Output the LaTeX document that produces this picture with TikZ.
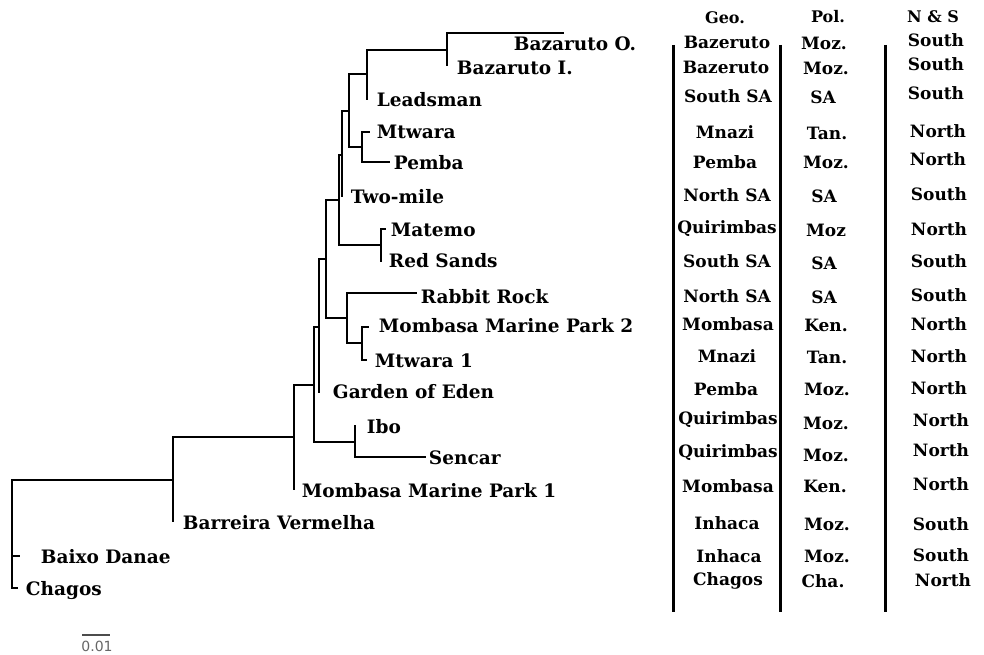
\documentclass[tikz,border=0pt]{standalone}
\usepackage{fontspec}
\setmainfont{DejaVu Serif}
\newfontfamily\barfont{DejaVu Sans}
\usepackage{tikz}

\begin{document}
\begin{tikzpicture}[x=1pt,y=-1pt,line width=1.9pt,
                    branch/.style={to path={|- (\tikztotarget)}},
                    leaf/.style={anchor=mid west,inner sep=0pt,yshift=-5pt,font=\fontsize{18.5}{20}\selectfont\bfseries},
                    cell/.style={inner sep=0pt,font=\fontsize{17}{19}\selectfont\bfseries},
                    head/.style={inner sep=0pt,font=\fontsize{16}{18}\selectfont\bfseries},
                    rule/.style={line width=3pt}]

  \useasboundingbox (0,0) rectangle (984,655);

  % branching points
  \coordinate (root) at (12,534);
  \coordinate (nA)   at (173,480);
  \coordinate (nB)   at (294,437);
  \coordinate (nC)   at (314,385);
  \coordinate (nE)   at (319,327);
  \coordinate (nF)   at (326,259);
  \coordinate (nX)   at (339,200);
  \coordinate (nY)   at (342,155);
  \coordinate (nZ)   at (349,111);
  \coordinate (nW)   at (367,74);
  \coordinate (nBZ)  at (447,50);
  \coordinate (nMP)  at (362,147);
  \coordinate (nMR)  at (381,245);
  \coordinate (nH)   at (347,318);
  \coordinate (nK)   at (362,343);
  \coordinate (nIS)  at (355,442);

  % tips
  \coordinate (tBazO)     at (564,33);
  \coordinate (tBazI)     at (447,66);
  \coordinate (tLeads)    at (367,100);
  \coordinate (tMtwara)   at (370,132);
  \coordinate (tPemba)    at (390,162);
  \coordinate (tTwo)      at (342,197);
  \coordinate (tMatemo)   at (386,229);
  \coordinate (tRedS)     at (381,262);
  \coordinate (tRabbit)   at (417,293);
  \coordinate (tMMP2)     at (369,327);
  \coordinate (tMtw1)     at (367,360);
  \coordinate (tEden)     at (319,393);
  \coordinate (tIbo)      at (355,425);
  \coordinate (tSencar)   at (426,457);
  \coordinate (tMMP1)     at (294,490);
  \coordinate (tBarreira) at (173,522);
  \coordinate (tDanae)    at (20,556);
  \coordinate (tChagos)   at (18,588);

  \path (root) edge [branch] (nA)
               edge [branch] (tDanae)
               edge [branch] (tChagos)
        (nA)   edge [branch] (nB)
               edge [branch] (tBarreira)
        (nB)   edge [branch] (nC)
               edge [branch] (tMMP1)
        (nC)   edge [branch] (nE)
               edge [branch] (nIS)
        (nE)   edge [branch] (nF)
               edge [branch] (tEden)
        (nF)   edge [branch] (nX)
               edge [branch] (nH)
        (nX)   edge [branch] (nY)
               edge [branch] (nMR)
        (nY)   edge [branch] (nZ)
               edge [branch] (tTwo)
        (nZ)   edge [branch] (nW)
               edge [branch] (nMP)
        (nW)   edge [branch] (nBZ)
               edge [branch] (tLeads)
        (nBZ)  edge [branch] (tBazO)
               edge [branch] (tBazI)
        (nMP)  edge [branch] (tMtwara)
               edge [branch] (tPemba)
        (nMR)  edge [branch] (tMatemo)
               edge [branch] (tRedS)
        (nH)   edge [branch] (tRabbit)
               edge [branch] (nK)
        (nK)   edge [branch] (tMMP2)
               edge [branch] (tMtw1)
        (nIS)  edge [branch] (tIbo)
               edge [branch] (tSencar);

  % tip labels
  \node[leaf] (lBazO)     at (513,43)  {Bazaruto O.};
  \node[leaf] (lBazI)     at (456,67)  {Bazaruto I.};
  \node[leaf] (lLeads)    at (376,99)  {Leadsman};
  \node[leaf] (lMtwara)   at (376,131) {Mtwara};
  \node[leaf] (lPemba)    at (393,162) {Pemba};
  \node[leaf] (lTwo)      at (350,196) {Two-mile};
  \node[leaf] (lMatemo)   at (390,229) {Matemo};
  \node[leaf] (lRedS)     at (388,260) {Red Sands};
  \node[leaf] (lRabbit)   at (420,296) {Rabbit Rock};
  \node[leaf] (lMMP2)     at (378,325) {Mombasa Marine Park 2};
  \node[leaf] (lMtw1)     at (374,360) {Mtwara 1};
  \node[leaf] (lEden)     at (332,391) {Garden of Eden};
  \node[leaf] (lIbo)      at (366,426) {Ibo};
  \node[leaf] (lSencar)   at (428,457) {Sencar};
  \node[leaf] (lMMP1)     at (301,490) {Mombasa Marine Park 1};
  \node[leaf] (lBarreira) at (182,522) {Barreira Vermelha};
  \node[leaf] (lDanae)    at (40,556)  {Baixo Danae};
  \node[leaf] (lChagos)   at (25,588)  {Chagos};

  % table
  \node[head] (hGeo) at (725,18) {Geo.};
  \node[head] (hPol) at (828,17) {Pol.};
  \node[head] (hNS)  at (933,17) {N \& S};

  \node[cell] (g1)  at (727,42)  {Bazeruto};  \node[cell] (p1)  at (824,43)  {Moz.}; \node[cell] (s1)  at (936,40)  {South};
  \node[cell] (g2)  at (726,67)  {Bazeruto};  \node[cell] (p2)  at (826,68)  {Moz.}; \node[cell] (s2)  at (936,64)  {South};
  \node[cell] (g3)  at (728,96)  {South SA};  \node[cell] (p3)  at (823,97)  {SA};   \node[cell] (s3)  at (936,93)  {South};
  \node[cell] (g4)  at (725,132) {Mnazi};     \node[cell] (p4)  at (827,133) {Tan.}; \node[cell] (s4)  at (938,131) {North};
  \node[cell] (g5)  at (725,162) {Pemba};     \node[cell] (p5)  at (826,162) {Moz.}; \node[cell] (s5)  at (938,159) {North};
  \node[cell] (g6)  at (727,195) {North SA};  \node[cell] (p6)  at (824,196) {SA};   \node[cell] (s6)  at (939,194) {South};
  \node[cell] (g7)  at (727,229) {Quirimbas}; \node[cell] (p7)  at (826,230) {Moz};  \node[cell] (s7)  at (939,229) {North};
  \node[cell] (g8)  at (727,261) {South SA};  \node[cell] (p8)  at (824,263) {SA};   \node[cell] (s8)  at (939,261) {South};
  \node[cell] (g9)  at (727,296) {North SA};  \node[cell] (p9)  at (824,297) {SA};   \node[cell] (s9)  at (939,295) {South};
  \node[cell] (g10) at (728,324) {Mombasa};   \node[cell] (p10) at (826,325) {Ken.}; \node[cell] (s10) at (939,324) {North};
  \node[cell] (g11) at (727,356) {Mnazi};     \node[cell] (p11) at (827,357) {Tan.}; \node[cell] (s11) at (939,356) {North};
  \node[cell] (g12) at (726,389) {Pemba};     \node[cell] (p12) at (827,389) {Moz.}; \node[cell] (s12) at (939,388) {North};
  \node[cell] (g13) at (728,420) {Quirimbas}; \node[cell] (p13) at (826,423) {Moz.}; \node[cell] (s13) at (941,420) {North};
  \node[cell] (g14) at (728,453) {Quirimbas}; \node[cell] (p14) at (826,455) {Moz.}; \node[cell] (s14) at (941,450) {North};
  \node[cell] (g15) at (728,486) {Mombasa};   \node[cell] (p15) at (825,486) {Ken.}; \node[cell] (s15) at (941,484) {North};
  \node[cell] (g16) at (727,523) {Inhaca};    \node[cell] (p16) at (827,524) {Moz.}; \node[cell] (s16) at (941,524) {South};
  \node[cell] (g17) at (729,556) {Inhaca};    \node[cell] (p17) at (827,556) {Moz.}; \node[cell] (s17) at (941,555) {South};
  \node[cell] (g18) at (728,581) {Chagos};    \node[cell] (p18) at (823,581) {Cha.}; \node[cell] (s18) at (943,580) {North};

  \draw[rule] (673,45) -- (673,612);
  \draw[rule] (780,45) -- (780,612);
  \draw[rule] (885,45) -- (885,612);

  % scale bar
  \draw[line width=1.3pt,black!70] (82,635) -- (110,635);
  \node[inner sep=0pt,text=black!60,font=\barfont\fontsize{14}{16}\selectfont] (bar) at (97,646) {0.01};
\end{tikzpicture}
\end{document}
